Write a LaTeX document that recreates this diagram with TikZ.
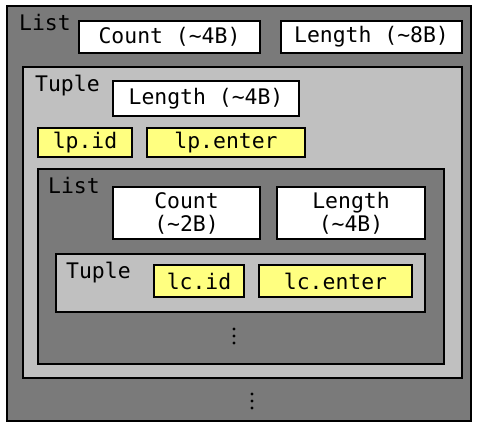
\documentclass[tikz,border=0pt]{standalone}
\usepackage{fontspec}
\setmonofont{DejaVu Sans Mono}
\definecolor{dgray}{HTML}{7A7A7A}
\definecolor{lgray}{HTML}{C0C0C0}
\definecolor{yel}{HTML}{FFFF80}
\begin{document}
\begin{tikzpicture}[x=1bp,y=-1bp,
  every node/.style={font=\ttfamily\fontsize{21.5}{23}\selectfont, inner sep=0pt},
  frame/.style={draw=black, line width=1.3bp, rectangle},
  darkbox/.style={frame, fill=dgray},
  lightbox/.style={frame, fill=lgray},
  whitebox/.style={frame, fill=white, align=center},
  yelbox/.style={frame, fill=yel},
  lbl/.style={anchor=north west},
  vdotsmark/.pic={\fill[black] (0,-7) circle (1.7) (0,0) circle (1.7) (0,7) circle (1.7);}]
\useasboundingbox (0,0) rectangle (479,423);
% outer list
\node[darkbox, minimum width=464bp, minimum height=415bp] (outer) at (239,213.5) {};
\node[lbl] (outerlbl) at (19,14) {List};
\node[whitebox, minimum width=181bp, minimum height=32bp] (cnt4) at (169.5,37) {Count (\string~4B)};
\node[whitebox, minimum width=181bp, minimum height=32bp] (len8) at (371.5,37) {Length (\string~8B)};
% tuple
\node[lightbox, minimum width=439bp, minimum height=311bp] (tup1) at (242.5,222.5) {};
\node[lbl] (tup1lbl) at (35,75) {Tuple};
\node[whitebox, minimum width=186bp, minimum height=35bp] (len4) at (206,98.5) {Length (\string~4B)};
\node[yelbox, minimum width=94bp, minimum height=29bp] (lpid) at (85,142.5) {lp.id};
\node[yelbox, minimum width=158bp, minimum height=29bp] (lpenter) at (226,142.5) {lp.enter};
% inner list
\node[darkbox, minimum width=406bp, minimum height=195bp] (list2) at (241,266.5) {};
\node[lbl] (list2lbl) at (48,177) {List};
\node[whitebox, minimum width=147bp, minimum height=52bp] (cnt2) at (186.5,213) {Count\\(\string~2B)};
\node[whitebox, minimum width=148bp, minimum height=52bp] (len4b) at (351,213) {Length\\(\string~4B)};
% inner tuple
\node[lightbox, minimum width=369bp, minimum height=58bp] (tup2) at (240.5,283) {};
\node[lbl] (tup2lbl) at (66,262) {Tuple};
\node[yelbox, minimum width=90bp, minimum height=32bp] (lcid) at (199,281) {lc.id};
\node[yelbox, minimum width=153bp, minimum height=32bp] (lcenter) at (335.5,281) {lc.enter};
% dots
\coordinate (dots1) at (234,336);
\coordinate (dots2) at (252,401);
\pic at (dots1) {vdotsmark};
\pic at (dots2) {vdotsmark};
\end{tikzpicture}
\end{document}
